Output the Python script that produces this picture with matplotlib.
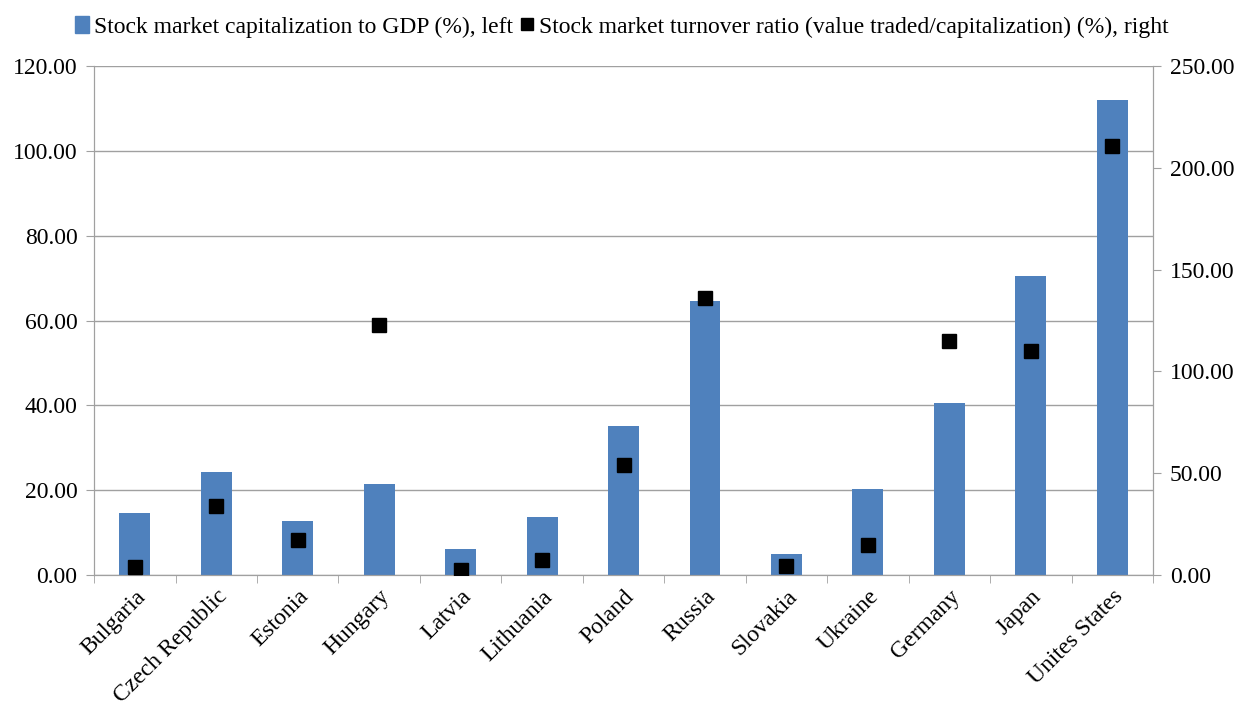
import numpy as np
import matplotlib.pyplot as plt
from matplotlib.lines import Line2D
from matplotlib.patches import Patch

plt.rcParams['font.family'] = ['Liberation Serif', 'DejaVu Serif']

countries = ["Bulgaria", "Czech Republic", "Estonia", "Hungary", "Latvia",
             "Lithuania", "Poland", "Russia", "Slovakia", "Ukraine",
             "Germany", "Japan", "Unites States"]
cap_to_gdp = [14.6, 24.3, 12.8, 21.5, 6.1, 13.7, 35.2, 64.5, 5.0, 20.3,
              40.6, 70.4, 112.0]
turnover = [3.9, 34.0, 17.2, 123.0, 2.5, 7.4, 54.0, 136.0, 4.4, 14.8,
            115.0, 110.0, 210.6]

blue = "#4f81bd"
grey = "#a0a0a0"

fig = plt.figure(figsize=(12.44, 7.09), dpi=100)
ax = fig.add_axes([0.0756, 0.189, 0.8513, 0.7179])
ax2 = ax.twinx()

x = np.arange(len(countries))
ax.bar(x, cap_to_gdp, width=0.38, color=blue, zorder=2)
ax2.plot(x, turnover, "s", color="black", markersize=9.5, zorder=3)

ax.set_xlim(-0.5, len(countries) - 0.5)
ax.set_ylim(0, 120)
ax2.set_ylim(0, 250)
ax.set_yticks(np.arange(0, 121, 20))
ax2.set_yticks(np.arange(0, 251, 50))
ax.set_yticklabels([f"{v:.2f}" for v in np.arange(0, 121, 20)])
ax2.set_yticklabels([f"{v:.2f}" for v in np.arange(0, 251, 50)])

ax.yaxis.grid(True, color=grey, linewidth=1, zorder=0)
ax.set_axisbelow(True)

ax.set_xticks(x)
ax.set_xticklabels(countries, rotation=45, ha="right", rotation_mode="anchor",
                   fontsize=17)
ax.tick_params(axis="x", length=0, pad=8)
ax.set_xticks(np.arange(-0.5, len(countries)), minor=True)
ax.tick_params(axis="x", which="minor", length=6, color=grey)

for a in (ax, ax2):
    a.tick_params(axis="y", labelsize=17, color=grey, length=6, pad=6)
    for s in a.spines.values():
        s.set_color(grey)
    a.spines["top"].set_visible(False)

handles = [Patch(color=blue),
           Line2D([], [], marker="s", color="black", linestyle="none", markersize=9)]
labels = ["Stock market capitalization to GDP (%), left",
          "Stock market turnover ratio (value traded/capitalization) (%), right"]
fig.legend(handles, labels, loc="center", bbox_to_anchor=(0.5, 0.962), ncol=2,
           frameon=False, fontsize=17, handlelength=0.6, handletextpad=0.2,
           columnspacing=0.3)

fig.savefig("out.png", dpi=100)
